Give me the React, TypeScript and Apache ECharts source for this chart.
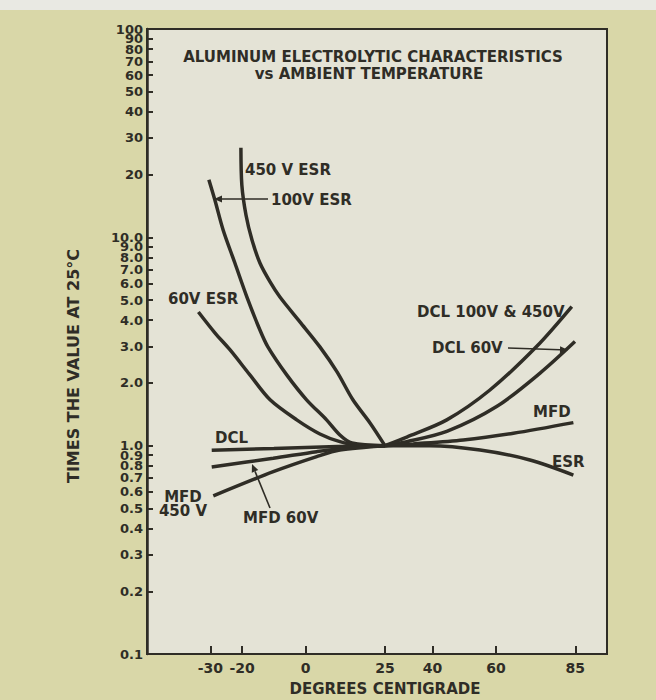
import React, { useEffect, useRef } from "react";
import * as echarts from "echarts";

// ---- axis ticks ----
const xTickValues = [-30, -20, 0, 25, 40, 60, 85];
const yTickValues = [
  0.1, 0.2, 0.3, 0.4, 0.5, 0.6, 0.7, 0.8, 0.9,
  1, 2, 3, 4, 5, 6, 7, 8, 9,
  10, 20, 30, 40, 50, 60, 70, 80, 90, 100,
];
// labels are split over two coincident axes so that no crowded label gets auto-hidden
const yLabelsA = yTickValues.filter((_, i) => i % 2 === 0);
const yLabelsB = yTickValues.filter((_, i) => i % 2 === 1);

// ---- curves: [degrees C, times the value at 25 C] ----
const esr450V = [[-20.4, 26.9], [-20.1, 17.8], [-18.8, 12.8], [-16.9, 9.71], [-14.4, 7.53], [-11.2, 6.11], [-8.1, 5.17], [-1.8, 3.93], [4.5, 2.98], [9.9, 2.26], [14.9, 1.66], [20.3, 1.285], [25, 1.0]];
const esr100V = [[-30.5, 18.9], [-28.6, 15.1], [-26.0, 10.85], [-22.3, 7.53], [-18.5, 5.17], [-14.4, 3.59], [-11.9, 2.98], [-5.9, 2.18], [0.3, 1.66], [6.6, 1.33], [10.8, 1.126], [14.6, 1.03], [25, 1.0]];
const esr60V = [[-33.8, 4.38], [-28.6, 3.48], [-23.8, 2.88], [-17.5, 2.18], [-11.2, 1.66], [-2.8, 1.33], [4.5, 1.138], [10.8, 1.045], [17.1, 1.0], [25, 1.0]];
const dclLow = [[-29.6, 0.95], [-10, 0.97], [10, 0.99], [25, 1.0]];
const mfd60VLow = [[-29.6, 0.79], [-10.2, 0.87], [3.5, 0.936], [14, 0.98], [25, 1.0]];
const mfd450VLow = [[-29.1, 0.574], [-10.2, 0.75], [3.5, 0.886], [10.8, 0.953], [25, 1.0]];
const dcl100V450V = [[25, 1.0], [31.9, 1.1], [44.5, 1.33], [58.1, 1.85], [72.8, 2.99], [83.9, 4.65]];
const dcl60V = [[25, 1.0], [31.9, 1.045], [44.5, 1.17], [60.2, 1.54], [73.9, 2.23], [84.9, 3.16]];
const mfdHigh = [[25, 1.0], [33.9, 1.02], [49.7, 1.065], [65.5, 1.147], [84.4, 1.29]];
const esrHigh = [[25, 1.0], [39.2, 1.0], [55.0, 0.953], [70.7, 0.854], [84.4, 0.723]];

const seriesList = [
  { name: "450 V ESR", data: esr450V },
  { name: "100V ESR", data: esr100V },
  { name: "60V ESR", data: esr60V },
  { name: "DCL", data: dclLow },
  { name: "MFD 60V", data: mfd60VLow },
  { name: "MFD 450V", data: mfd450VLow },
  { name: "DCL 100V & 450V", data: dcl100V450V },
  { name: "DCL 60V", data: dcl60V },
  { name: "MFD", data: mfdHigh },
  { name: "ESR", data: esrHigh },
];

const INK = "#2f2d26";
const FONT = "DejaVu Sans";

function label(text: string, x: number, y: number, size = 15, align = "left") {
  return {
    type: "text",
    x,
    y,
    z: 10,
    style: { text, fill: INK, fontSize: size, fontWeight: "bold", fontFamily: FONT, align, verticalAlign: "middle" },
  };
}

function arrow(x1: number, y1: number, x2: number, y2: number) {
  const ang = Math.atan2(y2 - y1, x2 - x1);
  const L = 8, W = 3.5;
  const bx = x2 - L * Math.cos(ang), by = y2 - L * Math.sin(ang);
  const px = -Math.sin(ang) * W, py = Math.cos(ang) * W;
  return [
    { type: "line", z: 10, shape: { x1, y1, x2: bx, y2: by }, style: { stroke: INK, lineWidth: 1.6 } },
    { type: "polygon", z: 10, shape: { points: [[x2, y2], [bx + px, by + py], [bx - px, by - py]] }, style: { fill: INK } },
  ];
}

const yLabelStyle = {
  color: INK, fontSize: 13, fontWeight: "bold", fontFamily: FONT, margin: 4, lineHeight: 9,
  showMinLabel: true, showMaxLabel: true,
  formatter: (v: number) => (v >= 19.5 ? String(Math.round(v)) : v.toFixed(1)),
};

export default function App() {
  const ref = useRef<HTMLDivElement>(null);
  useEffect(() => {
    document.body.style.margin = "0";
    const chart = echarts.init(ref.current!, null, { renderer: "svg" });
    chart.setOption({
      animation: false,
      backgroundColor: "#d9d7a8",
      grid: {
        left: 147, right: 49, top: 29, bottom: 46,
        show: true, backgroundColor: "#e4e3d6", borderColor: INK, borderWidth: 2,
      },
      xAxis: {
        type: "value", min: -50, max: 95,
        axisLine: { show: true, onZero: false, lineStyle: { color: INK, width: 2 } },
        axisTick: { show: true, inside: true, length: 8, customValues: xTickValues, lineStyle: { color: INK, width: 2 } },
        axisLabel: { customValues: xTickValues, color: INK, fontSize: 14, fontWeight: "bold", fontFamily: FONT, margin: 7 },
        splitLine: { show: false },
      },
      yAxis: [
        {
          type: "log", logBase: 10, min: 0.1, max: 100.000001, position: "left",
          axisLine: { show: true, onZero: false, lineStyle: { color: INK, width: 2.5 } },
          axisTick: { show: true, inside: true, length: 6, customValues: yTickValues, lineStyle: { color: INK, width: 2 } },
          axisLabel: { ...yLabelStyle, customValues: yLabelsA },
          splitLine: { show: false },
          minorTick: { show: false },
        },
        {
          type: "log", logBase: 10, min: 0.1, max: 100.000001, position: "left", offset: 0,
          axisLine: { show: false, onZero: false },
          axisTick: { show: false },
          axisLabel: { ...yLabelStyle, customValues: yLabelsB },
          splitLine: { show: false },
          minorTick: { show: false },
        },
      ],
      series: seriesList.map((s) => ({
        type: "line",
        name: s.name,
        data: s.data,
        yAxisIndex: 0,
        showSymbol: false,
        smooth: 0.3,
        silent: true,
        lineStyle: { color: INK, width: 3.5 },
      })),
      graphic: [
        { type: "rect", shape: { x: 0, y: 0, width: 656, height: 10 }, style: { fill: "#e9e9e3" } },
        label("ALUMINUM ELECTROLYTIC CHARACTERISTICS", 373, 57, 15, "center"),
        label("vs AMBIENT TEMPERATURE", 369, 74, 15, "center"),
        {
          type: "text", x: 73, y: 366, rotation: Math.PI / 2,
          style: { text: "TIMES THE VALUE AT 25°C", fill: INK, fontSize: 16, fontWeight: "bold", fontFamily: FONT, align: "center", verticalAlign: "middle" },
        },
        label("DEGREES CENTIGRADE", 385, 689, 15, "center"),
        label("450 V ESR", 245, 170),
        label("100V ESR", 271, 200),
        ...arrow(268, 199, 214, 199),
        label("60V ESR", 168, 299),
        label("DCL 100V & 450V", 417, 312),
        label("DCL 60V", 432, 348),
        ...arrow(508, 348, 568, 350),
        label("MFD", 533, 412),
        label("ESR", 552, 462),
        label("DCL", 215, 438),
        label("MFD", 183, 497, 15, "center"),
        label("450 V", 183, 511, 15, "center"),
        label("MFD 60V", 243, 518),
        ...arrow(270, 508, 252, 464),
      ],
    });
    return () => chart.dispose();
  }, []);
  return <div ref={ref} style={{ width: 656, height: 700 }} />;
}
